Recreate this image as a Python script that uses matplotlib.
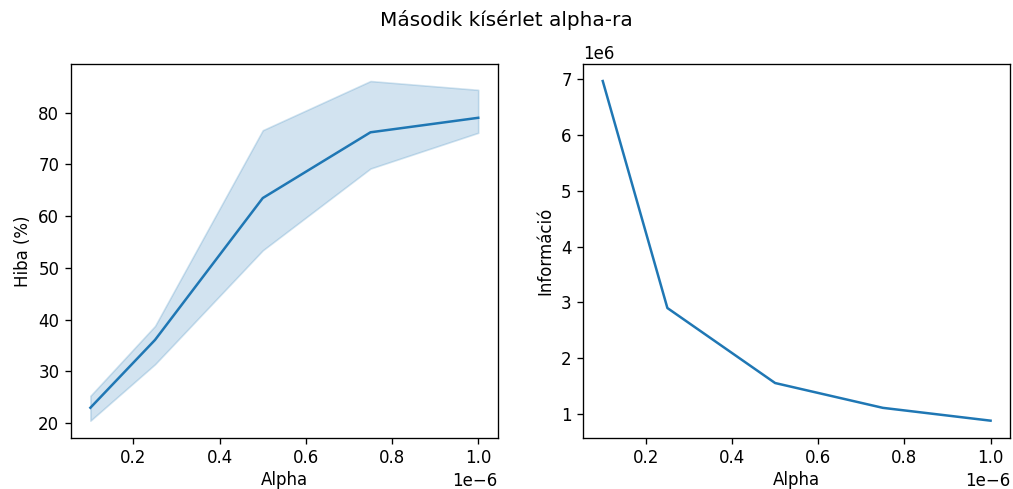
import matplotlib
matplotlib.use("Agg")
import matplotlib.pyplot as plt
import numpy as np

alpha = [1e-7, 2.5e-7, 5e-7, 7.5e-7, 1e-6]
hiba_mean = [23.0, 36.1, 63.5, 76.2, 79.0]
hiba_low = [20.5, 31.4, 53.4, 69.2, 76.1]
hiba_high = [25.3, 38.8, 76.6, 86.1, 84.4]
informacio = [6.97e6, 2.90e6, 1.555e6, 1.11e6, 0.88e6]

color = "#1f77b4"

fig, (ax1, ax2) = plt.subplots(1, 2, figsize=(1013 / 120, 489 / 120), dpi=120)
fig.subplots_adjust(left=0.0701, right=0.997, top=0.869, bottom=0.105, wspace=0.201)

ax1.plot(alpha, hiba_mean, color=color, lw=1.5)
ax1.fill_between(alpha, hiba_low, hiba_high, color=color, alpha=0.2)
ax1.set_xlabel("Alpha", labelpad=2)
ax1.set_ylabel("Hiba (%)")

ax2.plot(alpha, informacio, color=color, lw=1.5)
ax2.set_xlabel("Alpha", labelpad=2)
ax2.set_ylabel("Információ")

fig.suptitle("Második kísérlet alpha-ra", fontsize=12)

fig.savefig("out.png", dpi=120)
